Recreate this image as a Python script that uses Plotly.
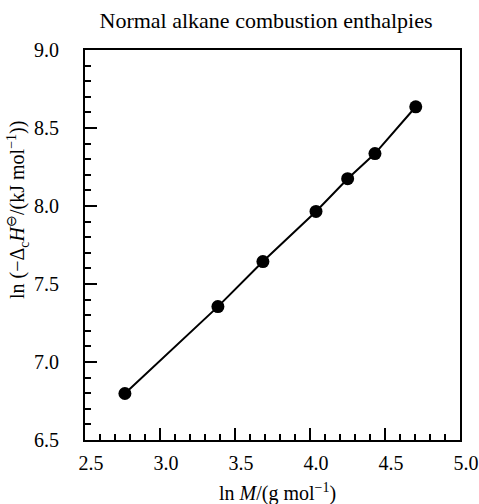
import plotly.graph_objects as go

ln_M = [2.766, 3.386, 3.686, 4.040, 4.251, 4.433, 4.705]
ln_dcH = [6.798, 7.355, 7.644, 7.965, 8.175, 8.336, 8.636]

title_text = "Normal alkane combustion enthalpies"
x_title = "ln <i>M</i>/(g mol<sup>−1</sup>)"
y_title = "ln (−Δ<sub>c</sub><i>H</i><sup>⊖</sup>/(kJ mol<sup>−1</sup>))"

font_family = "Liberation Serif, Times New Roman, serif"

fig = go.Figure()
fig.add_trace(go.Scatter(
    x=ln_M, y=ln_dcH, mode="lines+markers",
    line=dict(color="black", width=2),
    marker=dict(color="black", size=13),
    showlegend=False,
))

axis_common = dict(
    showgrid=False, zeroline=False, automargin=False,
    showline=True, linecolor="black", linewidth=2, mirror=True,
    ticks="inside", ticklen=12, tickwidth=2, tickcolor="black",
    dtick=0.5, tickformat=".1f", ticklabeloverflow="allow",
    tickfont=dict(family=font_family, size=20, color="black"),
    minor=dict(ticks="inside", ticklen=6, tickwidth=2, tickcolor="black", dtick=0.1, showgrid=False),
)

L, R, T, B = 85, 19, 50, 64
W, H = 479, 504
pw, ph = W - L - R, H - T - B

fig.update_layout(
    width=W, height=H,
    margin=dict(l=L, r=R, t=T, b=B, autoexpand=False),
    paper_bgcolor="white", plot_bgcolor="white",
    font=dict(family=font_family, color="black"),
    title=dict(text=title_text, x=266 / W, xanchor="center", y=1 - 20 / H, yanchor="middle",
               yref="container", font=dict(family=font_family, size=22, color="black")),
    xaxis=dict(range=[2.5, 5.0], ticklabelshift=6, ticklabelstandoff=4, **axis_common),
    yaxis=dict(range=[6.5, 9.0], ticklabelstandoff=20, **axis_common),
    annotations=[
        dict(text=x_title, xref="paper", yref="paper", x=(277 - L) / pw, y=-(492 - (H - B)) / ph,
             xanchor="center", yanchor="middle", showarrow=False,
             font=dict(family=font_family, size=20, color="black")),
        dict(text=y_title, xref="paper", yref="paper", x=(18 - L) / pw, y=((H - B) - 210) / ph,
             xanchor="center", yanchor="middle", showarrow=False, textangle=-90,
             font=dict(family=font_family, size=20, color="black")),
    ],
)

fig.write_html("out.html", config={"displayModeBar": False},
               post_script="document.body.style.margin='0';")
